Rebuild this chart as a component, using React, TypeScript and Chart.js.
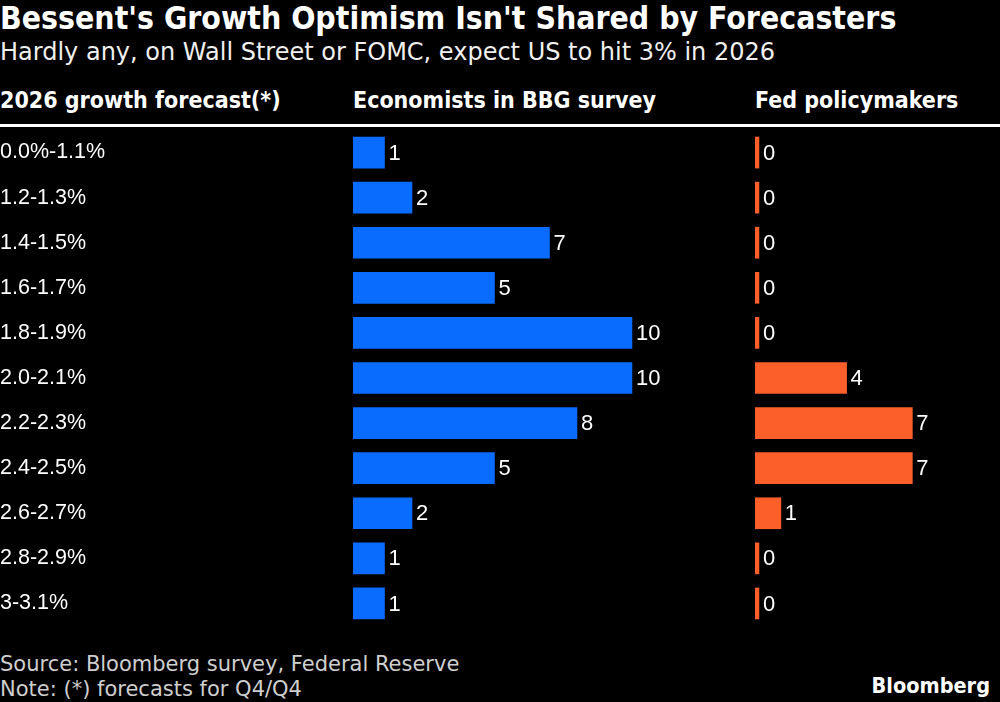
import React, { useEffect, useRef } from 'react';
import { Chart, registerables } from 'chart.js';

Chart.register(...registerables);

const categories = ['0.0%-1.1%', '1.2-1.3%', '1.4-1.5%', '1.6-1.7%', '1.8-1.9%', '2.0-2.1%', '2.2-2.3%', '2.4-2.5%', '2.6-2.7%', '2.8-2.9%', '3-3.1%'];
const economists = [1, 2, 7, 5, 10, 10, 8, 5, 2, 1, 1];
const fedPolicymakers = [0, 0, 0, 0, 0, 4, 7, 7, 1, 0, 0];

const titleText = "Bessent's Growth Optimism Isn't Shared by Forecasters";
const subtitleText = 'Hardly any, on Wall Street or FOMC, expect US to hit 3% in 2026';
const headerLabels = ['2026 growth forecast(*)', 'Economists in BBG survey', 'Fed policymakers'];
const sourceText = 'Source: Bloomberg survey, Federal Reserve';
const noteText = 'Note: (*) forecasts for Q4/Q4';

const BLUE = '#0a6cff';
const ORANGE = '#fd5f2a';
const CONDENSED = '"DejaVu Sans Condensed", "Liberation Sans Narrow", sans-serif';
const WIDE = '"DejaVu Sans", Verdana, sans-serif';
const SANS = '"Liberation Sans", Arial, Helvetica, sans-serif';

const valueLabels = {
  id: 'valueLabels',
  afterDatasetsDraw(chart: any) {
    const ctx = chart.ctx;
    const meta = chart.getDatasetMeta(0);
    const data = chart.data.datasets[0].data as number[];
    ctx.save();
    ctx.fillStyle = '#ffffff';
    ctx.font = '22px ' + SANS;
    ctx.textBaseline = 'middle';
    ctx.textAlign = 'left';
    meta.data.forEach((bar: any, i: number) => {
      ctx.fillText(String(data[i]), bar.x + 4, bar.y + 1);
    });
    ctx.restore();
  },
};

function BarPanel(props: { values: number[]; color: string; min: number; max: number; showLabels: boolean; padLeft: number; style: React.CSSProperties }) {
  const ref = useRef<HTMLCanvasElement | null>(null);
  useEffect(() => {
    if (!ref.current) return;
    const chart = new Chart(ref.current, {
      type: 'bar',
      data: {
        labels: categories,
        datasets: [
          {
            data: props.values,
            backgroundColor: props.color,
            borderWidth: 0,
            barThickness: 31,
            base: props.min,
          } as any,
        ],
      },
      options: {
        indexAxis: 'y',
        animation: false,
        responsive: false,
        maintainAspectRatio: false,
        devicePixelRatio: 1,
        layout: { padding: { left: props.padLeft, right: 0, top: 0, bottom: 0 } },
        plugins: { legend: { display: false }, tooltip: { enabled: false }, title: { display: false } },
        scales: {
          x: {
            type: 'linear',
            min: props.min,
            max: props.max,
            display: false,
          },
          y: {
            type: 'category',
            display: props.showLabels,
            offset: true,
            grid: { display: false, drawTicks: false },
            border: { display: false },
            ticks: {
              crossAlign: 'far',
              color: '#ffffff',
              padding: 0,
              font: { family: SANS, size: 21.5 },
            },
            afterFit: (scale: any) => {
              if (props.showLabels) scale.width = 353;
              scale.paddingTop = 0;
              scale.paddingBottom = 0;
            },
          },
        },
      } as any,
      plugins: [valueLabels],
    });
    return () => chart.destroy();
  }, []);
  return <canvas ref={ref} style={{ position: 'absolute', ...props.style }} width={props.style.width as number} height={props.style.height as number} />;
}

export default function App() {
  useEffect(() => {
    document.body.style.margin = '0';
    document.body.style.background = '#000';
  }, []);
  const txt = (extra: React.CSSProperties): React.CSSProperties => ({
    position: 'absolute',
    whiteSpace: 'nowrap',
    margin: 0,
    ...extra,
  });
  return (
    <div style={{ position: 'relative', width: 1000, height: 702, background: '#000', overflow: 'hidden', fontFamily: CONDENSED }}>
      <div style={txt({ left: 0, top: 2, fontSize: 31.7, lineHeight: '32px', fontWeight: 700, color: '#fff' })}>{titleText}</div>
      <div style={txt({ left: 0, top: 40, fontSize: 24, lineHeight: '25px', fontWeight: 400, color: '#f0f0f0', fontFamily: WIDE })}>{subtitleText}</div>
      <div style={txt({ left: 0, top: 88, fontSize: 23, lineHeight: '24px', fontWeight: 700, color: '#fff' })}>{headerLabels[0]}</div>
      <div style={txt({ left: 353, top: 88, fontSize: 23, lineHeight: '24px', fontWeight: 700, color: '#fff' })}>{headerLabels[1]}</div>
      <div style={txt({ left: 755, top: 88, fontSize: 23, lineHeight: '24px', fontWeight: 700, color: '#fff' })}>{headerLabels[2]}</div>
      <div style={{ position: 'absolute', left: 0, top: 124, width: 1000, height: 3, background: '#fff' }} />
      <BarPanel values={economists} color={BLUE} min={-0.145} max={13.93} showLabels={true} padLeft={0} style={{ left: 0, top: 130, width: 740, height: 496 }} />
      <BarPanel values={fedPolicymakers} color={ORANGE} min={-0.18} max={11} showLabels={false} padLeft={15} style={{ left: 740, top: 130, width: 260, height: 496 }} />
      <div style={txt({ left: 0, top: 653, fontSize: 21, lineHeight: '22px', color: '#cfcfcf', fontFamily: WIDE })}>{sourceText}</div>
      <div style={txt({ left: 0, top: 678, fontSize: 21, lineHeight: '22px', color: '#cfcfcf', fontFamily: WIDE })}>{noteText}</div>
      <div style={txt({ right: 10, top: 675, fontSize: 21.5, lineHeight: '22px', fontWeight: 700, color: '#fff' })}>Bloomberg</div>
    </div>
  );
}
